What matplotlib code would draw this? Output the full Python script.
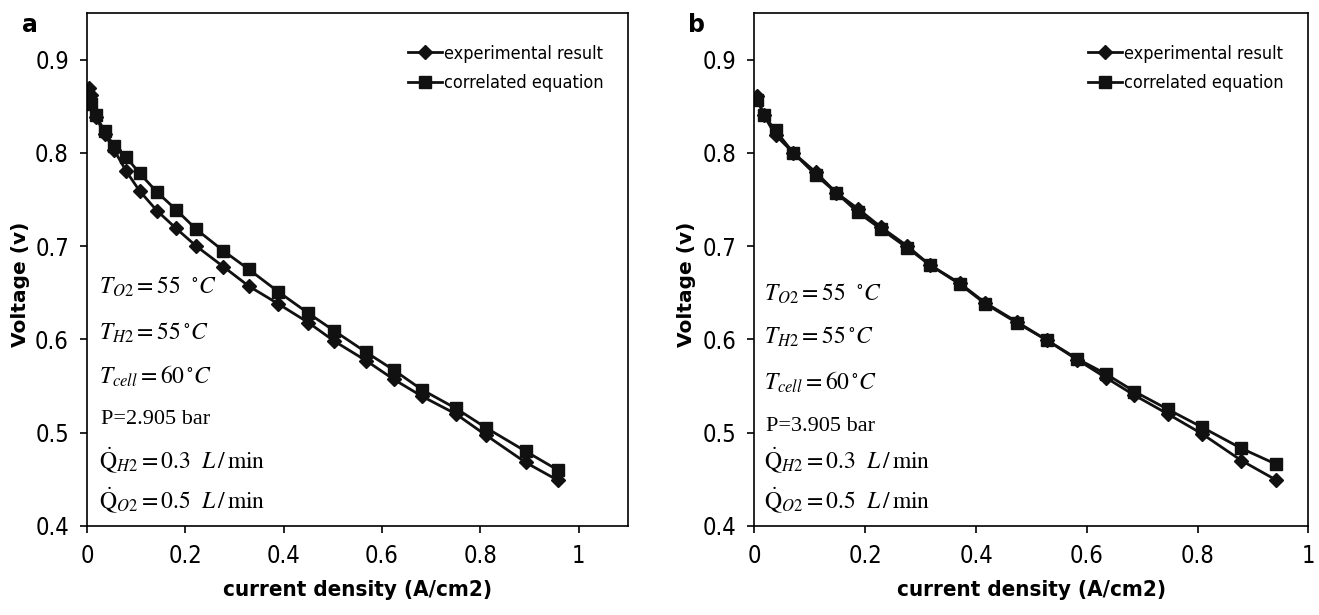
import numpy as np
import matplotlib
matplotlib.use('Agg')
import matplotlib.pyplot as plt

plt.rcParams['mathtext.fontset'] = 'stix'
narrow = ['Liberation Sans Narrow', 'DejaVu Sans']

# panel a (P = 2.905 bar)
x_a = [0.003, 0.008, 0.018, 0.036, 0.055, 0.080, 0.107, 0.142, 0.181, 0.222, 0.277,
       0.329, 0.389, 0.450, 0.503, 0.568, 0.624, 0.681, 0.750, 0.812, 0.892, 0.957]
exp_a = [0.870, 0.862, 0.838, 0.820, 0.803, 0.780, 0.759, 0.738, 0.719, 0.700, 0.678,
         0.657, 0.638, 0.618, 0.598, 0.577, 0.557, 0.539, 0.520, 0.497, 0.468, 0.449]
cor_a = [0.856, 0.852, 0.840, 0.823, 0.807, 0.795, 0.778, 0.758, 0.739, 0.718, 0.695,
         0.675, 0.651, 0.628, 0.609, 0.586, 0.567, 0.546, 0.526, 0.505, 0.480, 0.460]

# panel b (P = 3.905 bar)
x_b = [0.005, 0.017, 0.038, 0.070, 0.111, 0.148, 0.187, 0.229, 0.276, 0.316, 0.371,
       0.417, 0.473, 0.528, 0.583, 0.634, 0.686, 0.746, 0.807, 0.879, 0.942]
exp_b = [0.861, 0.840, 0.819, 0.800, 0.779, 0.757, 0.740, 0.720, 0.700, 0.680, 0.660,
         0.639, 0.619, 0.599, 0.578, 0.559, 0.540, 0.520, 0.499, 0.470, 0.449]
cor_b = [0.857, 0.840, 0.824, 0.800, 0.776, 0.757, 0.736, 0.718, 0.698, 0.680, 0.659,
         0.638, 0.618, 0.599, 0.579, 0.563, 0.544, 0.525, 0.506, 0.483, 0.466]

yticks = [0.4, 0.5, 0.6, 0.7, 0.8, 0.9]
ytick_labels = ['0.4', '0.5', '0.6', '0.7', '0.8', '0.9']
xticks = [0, 0.2, 0.4, 0.6, 0.8, 1.0]
xtick_labels = ['0', '0.2', '0.4', '0.6', '0.8', '1']

conditions = [r'$T_{O2} = 55\ \ ^{\circ}C$',
              r'$T_{H2} = 55\,^{\circ}C$',
              r'$T_{cell} = 60\,^{\circ}C$',
              None,
              r'$\dot{\mathrm{Q}}_{H2} = 0.3\ \ L\,/\,\mathrm{min}$',
              r'$\dot{\mathrm{Q}}_{O2} = 0.5\ \ L\,/\,\mathrm{min}$']
pressures = ['P=2.905 bar', 'P=3.905 bar']
text_y_a = [0.656, 0.607, 0.560, 0.514, 0.470, 0.427]
text_y_b = [0.649, 0.603, 0.554, 0.506, 0.470, 0.428]


def draw_panel(ax, x, exp, cor, xmax, pressure, letter, tx, ys):
    ax.plot(x, exp, color='#111111', lw=2, marker='D', ms=7, label='experimental result')
    ax.plot(x, cor, color='#111111', lw=2, marker='s', ms=8.5, label='correlated equation')
    ax.set_xlim(0, xmax)
    ax.set_ylim(0.4, 0.95)
    ax.set_xticks(xticks)
    ax.set_xticklabels(xtick_labels, family=narrow, stretch='condensed', fontsize=17)
    ax.set_yticks(yticks)
    ax.set_yticklabels(ytick_labels, family=narrow, stretch='condensed', fontsize=17)
    ax.tick_params(direction='out', length=5, width=1.2, pad=8)
    for s in ax.spines.values():
        s.set_linewidth(1.2)
    ax.set_ylabel('Voltage (v)', fontsize=14.5, fontweight='bold')
    ax.yaxis.set_label_coords(-0.105, 0.47)
    ax.set_xlabel('current density (A/cm2)', family=narrow, stretch='condensed',
                  fontweight='bold', fontsize=16, labelpad=9)
    ax.legend(loc='upper right', frameon=False, handlelength=1.9, handletextpad=0.1,
              prop={'family': narrow, 'stretch': 'condensed', 'size': 13},
              labelspacing=0.65, bbox_to_anchor=(0.985, 0.97))
    # condition annotations
    for i, s in enumerate(conditions):
        if s is None:
            ax.text(tx + 0.003, ys[i], pressure, transform=ax.get_yaxis_transform(),
                    family='Liberation Serif', fontsize=16, va='center')
        else:
            ax.text(tx, ys[i], s, transform=ax.get_yaxis_transform(),
                    fontsize=17, va='center')
    ax.text(-0.12, 1.0, letter, transform=ax.transAxes, fontsize=17, fontweight='bold',
            va='top', ha='left')


fig = plt.figure(figsize=(13.19, 6.15), dpi=100)
ax1 = fig.add_axes([0.066, 0.145, 0.410, 0.834])
ax2 = fig.add_axes([0.572, 0.145, 0.420, 0.834])

draw_panel(ax1, x_a, exp_a, cor_a, 1.1, pressures[0], 'a', 0.023, text_y_a)
draw_panel(ax2, x_b, exp_b, cor_b, 1.0, pressures[1], 'b', 0.017, text_y_b)

fig.savefig('out.png', dpi=100)
